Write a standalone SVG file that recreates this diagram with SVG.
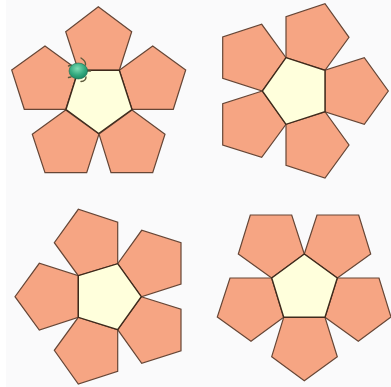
<svg xmlns="http://www.w3.org/2000/svg" width="391" height="387" viewBox="0 0 391 387">
<style>
.p{fill:#f6a583;stroke:#664636;stroke-width:1.2;stroke-linejoin:miter}
.c{fill:#ffffdc;stroke:#3f2a1c;stroke-width:1.4;stroke-linejoin:miter}
.l{fill:none;stroke:#5c5a3c;stroke-width:1.4;stroke-linecap:round}
</style>
<defs><radialGradient id="g" cx="0.45" cy="0.35" r="0.65"><stop offset="0" stop-color="#7fdcb4"/><stop offset="0.6" stop-color="#35ab80"/><stop offset="1" stop-color="#1c8a64"/></radialGradient></defs>
<rect width="391" height="387" fill="#ffffff"/>
<rect x="6" y="0" width="385" height="387" fill="#fafafb"/>
<g id="flower-1">
<polygon class="p" points="98.3,6.7 131.7,31.7 119.3,70.3 78.3,70.3 65.7,31.7"/>
<polygon class="p" points="45,46 11.7,70 24.3,109.3 65.7,109.3 78.3,70.3"/>
<polygon class="p" points="152.7,46 185.7,70 173.3,109.3 132,109.3 119.3,70.3"/>
<polygon class="p" points="65.7,110 32.3,134.3 45,172.7 86.7,172.7 99,134"/>
<polygon class="p" points="132,110 165,134.3 152.7,172.7 111,172.7 99,134"/>
<polygon class="c" points="78.3,70.3 119.3,70.3 132,109.5 98.7,133.5 66,109.5"/>
</g>
<g id="turtle">
<path class="l" d="M81,58 Q86,61 85.500,65 M81,81.500 Q86,81 86,77 M71,65 L68.500,66 M71,77 L68.500,77.500 M87,71 L90.500,71"/>
<ellipse cx="78.300" cy="71" rx="9.300" ry="8" fill="url(#g)" stroke="#1f6a50" stroke-width="0.6"/>
</g>
<g id="flower-2">
<polygon class="p" points="286,57.700 325,70.300 349,37.300 325,3.700 286,16.700"/>
<polygon class="p" points="262.300,91 286,57.700 261.700,24.300 222.700,37 222.700,78.300"/>
<polygon class="p" points="325,70.300 325,111.700 364.300,124.300 388.300,91 364.300,57.700"/>
<polygon class="p" points="262.300,91 222.700,103.700 222.700,145 261.700,157.300 286,124.300"/>
<polygon class="p" points="286,124.300 325,111.700 349,145 325,178 286,165.300"/>
<polygon class="c" points="286,57.700 325,70.300 325,111.700 286,124.300 262.300,91"/>
</g>
<g id="flower-3">
<polygon class="p" points="78.300,275.700 117.700,263.700 117.700,222.300 78.300,209.300 54.300,242.700"/>
<polygon class="p" points="117.700,263.700 141.300,296.700 181,284 181,242.700 141.700,230.300"/>
<polygon class="p" points="78.300,275.700 78.300,317.300 39.300,330 15,296.700 39.300,263.300"/>
<polygon class="p" points="141.300,296.700 181,309.300 181,350.700 141.700,363.300 117.700,329.700"/>
<polygon class="p" points="78.300,317.300 117.700,329.700 117.700,371.300 78.300,384 54.300,350.300"/>
<polygon class="c" points="78.300,275.700 117.700,263.700 141.300,296.700 117.700,329.700 78.300,317.300"/>
</g>
<g id="flower-4">
<polygon class="p" points="304.300,254 271.700,278 238.300,254 250.300,215 291.700,215"/>
<polygon class="p" points="304.300,254 317,215 358.700,215 370.700,254 337.300,278"/>
<polygon class="p" points="271.700,278 283.700,317.300 251,341.300 217.300,317 230,278"/>
<polygon class="p" points="337.300,278 379,278 391,317 358.300,341.300 325,317.300"/>
<polygon class="p" points="283.700,317.300 325,317.300 337.300,356.700 304.300,380.700 271.700,356.700"/>
<polygon class="c" points="304.300,254 337.300,278 325,317.300 283.700,317.300 271.700,278"/>
</g>
</svg>
